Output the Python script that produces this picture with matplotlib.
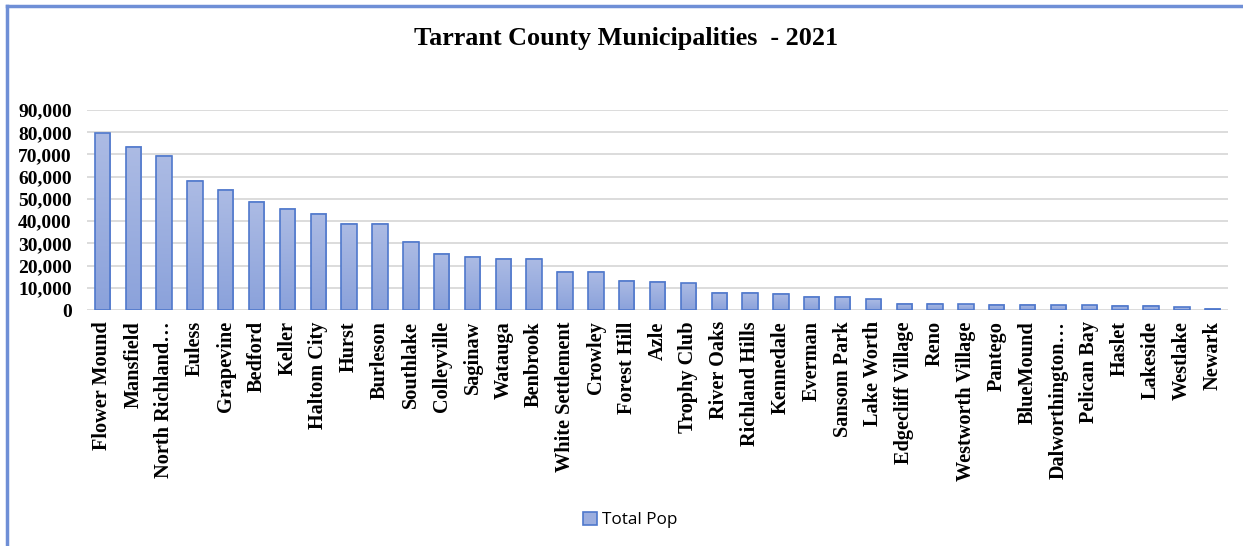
import numpy as np
import matplotlib.pyplot as plt
from matplotlib.colors import LinearSegmentedColormap
from matplotlib.patches import Patch
from matplotlib.ticker import FuncFormatter

towns = ["Flower Mound", "Mansfield", "North Richland\u2026", "Euless", "Grapevine",
         "Bedford", "Keller", "Haltom City", "Hurst", "Burleson", "Southlake",
         "Colleyville", "Saginaw", "Watauga", "Benbrook", "White Settlement",
         "Crowley", "Forest Hill", "Azle", "Trophy Club", "River Oaks",
         "Richland Hills", "Kennedale", "Everman", "Sansom Park", "Lake Worth",
         "Edgecliff Village", "Reno", "Westworth Village", "Pantego", "BlueMound",
         "Dalworthington\u2026", "Pelican Bay", "Haslet", "Lakeside", "Westlake",
         "Newark"]
total_pop = [79500, 73400, 69500, 58200, 54200, 48600, 45500, 43400, 38700, 38700,
             30600, 25400, 24000, 23200, 23200, 17300, 17300, 13200, 12600, 12000,
             7900, 7900, 7400, 6000, 6000, 4800, 2800, 2700, 2600, 2300, 2300,
             2200, 2100, 2000, 2000, 1200, 700]
y_ticks = np.arange(0, 90001, 10000)

serif = "Liberation Serif"
fill_cmap = LinearSegmentedColormap.from_list("barfill", ["#8ba2db", "#acbbe4"])
edge_col = "#4f78cc"

fig = plt.figure(figsize=(12.43, 5.46), dpi=100)
ax = fig.add_axes([0.07, 0.432, 0.918, 0.3665])

x = np.arange(len(towns))
bars = ax.bar(x, total_pop, width=0.5, facecolor="none", edgecolor=edge_col,
              linewidth=1.2, zorder=3)

# vertical gradient inside each bar
grad = np.linspace(0, 1, 100).reshape(-1, 1)
for b in bars:
    x0, w, h = b.get_x(), b.get_width(), b.get_height()
    ax.imshow(grad, cmap=fill_cmap, extent=[x0, x0 + w, 0, h], origin="lower",
              aspect="auto", zorder=2)

ax.set_xlim(-0.5, len(towns) - 0.5)
ax.set_ylim(0, 90000)
ax.set_yticks(y_ticks)
ax.yaxis.set_major_formatter(FuncFormatter(lambda v, p: f"{int(v):,}"))
ax.grid(axis="y", color="#d9d9d9", linewidth=1.3, zorder=0)
for s in ax.spines.values():
    s.set_visible(False)
ax.tick_params(length=0)
ax.tick_params(axis="y", pad=11)
ax.tick_params(axis="x", pad=8)
ax.set_xticks(x)
ax.set_xticklabels(towns, rotation=90, va="top", ha="center")
for lab in ax.get_yticklabels():
    lab.set_fontfamily(serif)
    lab.set_fontweight("bold")
    lab.set_fontsize(14)
for lab in ax.get_xticklabels():
    lab.set_fontfamily(serif)
    lab.set_fontweight("bold")
    lab.set_fontsize(14.6)

fig.text(0.504, 0.93, "Tarrant County Municipalities  - 2021", ha="center",
         va="center", fontsize=18.8, fontweight="bold", fontfamily=serif)

handle = Patch(facecolor="#9caedf", edgecolor=edge_col, linewidth=1.2)
fig.legend([handle], ["Total Pop"], loc="center", bbox_to_anchor=(0.507, 0.048),
           frameon=False, prop={"family": "Open Sans", "size": 12.3},
           handlelength=0.8, handleheight=0.8, handletextpad=0.3)

# blue frame on the top and left edges
fig.add_artist(plt.Line2D([0.006, 1.0], [0.9895, 0.9895], color="#6f8fd6",
                          linewidth=2.5))
fig.add_artist(plt.Line2D([0.0058, 0.0058], [0.0, 0.9895], color="#6f8fd6",
                          linewidth=2.5))

fig.savefig("out.png", dpi=100)
